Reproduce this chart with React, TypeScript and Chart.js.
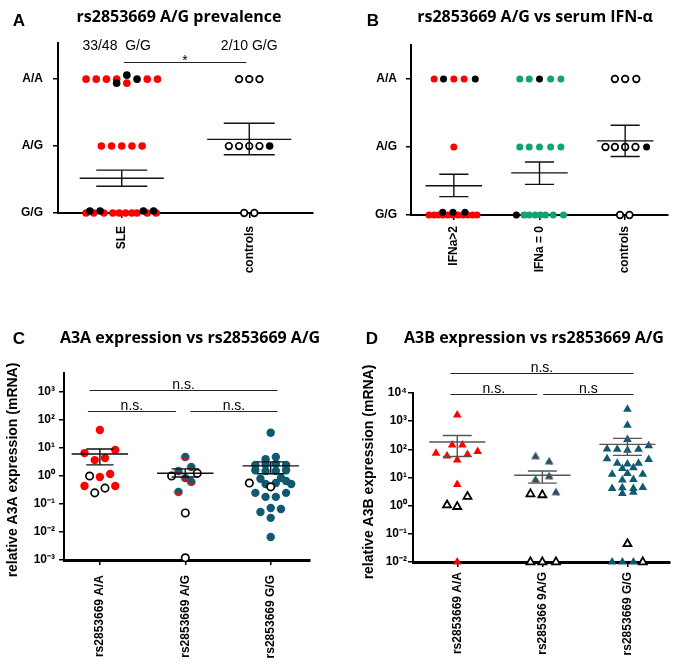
import React, { useEffect, useRef } from 'react';
import { Chart, registerables } from 'chart.js';

Chart.register(...registerables);

type Pt = [number, number];

const RED = '#ff0000';
const GREEN = '#13a36c';
const TEAL = '#0f5a70';
const BLACK = '#000000';
const LABEL_FAMILY = '"Liberation Sans", Arial, sans-serif';
const TITLE_FAMILY = '"Open Sans", "Liberation Sans", sans-serif';

// ================= Panel A : rs2853669 A/G prevalence =================
const A_GROUPS = ['SLE', 'controls'];
const A_GENOTYPE_TICKS = [0, 1, 2];
const A_GENOTYPE_LABELS = ['G/G', 'A/G', 'A/A'];
const A_RED: Pt[] = [
  [-0.28, 2], [-0.2, 2], [-0.12, 2], [-0.04, 2], [0.04, 1.94], [0.2, 2], [0.28, 2],
  [-0.16, 1], [-0.08, 1], [0, 1], [0.08, 1], [0.16, 1],
  [-0.28, 0], [-0.22, 0], [-0.14, 0], [-0.07, 0], [-0.02, 0], [0.03, 0], [0.08, 0], [0.12, 0], [0.2, 0], [0.27, 0],
];
const A_BLACK: Pt[] = [
  [-0.04, 1.94], [0.04, 2.06], [0.12, 2],
  [-0.25, 0.03], [-0.17, 0.03], [0.17, 0.03], [0.25, 0.03],
  [1.16, 1],
];
const A_OPEN: Pt[] = [
  [0.92, 2], [1, 2], [1.08, 2],
  [0.84, 1], [0.92, 1], [1, 1], [1.08, 1],
  [0.96, 0], [1.04, 0],
];
const A_MEAN = [0.52, 1.1];
const A_SEM_HIGH = [0.64, 1.34];
const A_SEM_LOW = [0.4, 0.87];
const A_COUNT_LABELS = ['33/48  G/G', '2/10 G/G'];
const A_SIG_LABELS = ['*'];

// ================= Panel B : rs2853669 A/G vs serum IFN-α =================
const B_GROUPS = ['IFNa>2', 'IFNa = 0', 'controls'];
const B_RED: Pt[] = [
  [-0.23, 2], [0, 2], [0.12, 2],
  [0, 1],
  [-0.29, 0], [-0.23, 0], [-0.18, 0], [-0.13, 0], [-0.07, 0], [-0.01, 0], [0.05, 0], [0.11, 0], [0.16, 0], [0.22, 0], [0.27, 0],
];
const B_GREEN: Pt[] = [
  [0.77, 2], [0.88, 2], [1.13, 2], [1.25, 2],
  [0.77, 1], [0.88, 1], [1, 1], [1.13, 1], [1.25, 1],
  [0.82, 0], [0.88, 0], [0.95, 0], [1.01, 0], [1.07, 0], [1.16, 0], [1.28, 0],
];
const B_BLACK: Pt[] = [
  [-0.12, 2], [0.25, 2], [-0.13, 0.04], [-0.01, 0.04], [0.13, 0.04],
  [1, 2], [0.73, 0],
  [2.25, 1],
];
const B_OPEN: Pt[] = [
  [1.88, 2], [2, 2], [2.13, 2],
  [1.77, 1], [1.88, 1], [2, 1], [2.12, 1],
  [1.94, 0], [2.05, 0],
];
const B_MEAN = [0.43, 0.62, 1.09];
const B_SEM_HIGH = [0.6, 0.78, 1.32];
const B_SEM_LOW = [0.27, 0.45, 0.86];

// ================= Panel C : A3A expression =================
const C_GROUPS = ['rs2853669 A/A', 'rs2853669 A/G', 'rs2853669 G/G'];
const C_Y_TICKS = [1e-3, 1e-2, 1e-1, 1, 10, 100, 1000];
const C_RED: Pt[] = [
  [0, 44], [-0.18, 6.6], [0.18, 8.5], [-0.06, 3.7], [0.06, 4.4],
  [0, 0.92], [0.12, 1.18], [-0.18, 0.44], [0.18, 0.44],
];
const C_HALF: Pt[] = [
  [1, 4.8], [1.07, 2.1], [0.92, 1.5], [1, 0.85], [1.07, 0.62], [0.92, 0.27],
];
const C_TEAL: Pt[] = [
  [2, 35], [2.06, 4.8], [1.94, 4.0],
  [1.82, 2.5], [1.94, 2.6], [2.06, 2.7], [2.18, 2.5],
  [1.82, 1.6], [1.94, 1.5], [2.06, 1.5], [2.18, 1.6],
  [1.88, 0.8], [2.12, 0.85], [2.18, 0.66], [2.24, 0.52], [1.94, 0.52], [2.06, 0.56],
  [1.82, 0.25], [1.94, 0.18], [2.06, 0.18], [2.18, 0.25],
  [1.88, 0.052], [2, 0.072], [2.12, 0.066], [2, 0.032], [2, 0.0066],
];
const C_OPEN: Pt[] = [
  [-0.12, 1.0], [-0.06, 0.25], [0.06, 0.37],
  [0.84, 1.0], [1.14, 1.26], [1, 0.048], [1, 0.0012],
  [1.75, 0.56], [2, 0.41],
];
const C_MEAN = [6.1, 1.25, 2.3];
const C_SEM_HIGH = [9.2, 1.8, 3.2];
const C_SEM_LOW = [2.5, 0.92, 1.2];
const C_SIG_LABELS = ['n.s.', 'n.s.', 'n.s.'];

// ================= Panel D : A3B expression =================
const D_GROUPS = ['rs2853669 A/A', 'rs285366 9A/G', 'rs2853669 G/G'];
const D_Y_TICKS = [1e-2, 1e-1, 1, 10, 100, 1000, 1e4];
const D_RED: Pt[] = [
  [0, 1660], [-0.06, 142], [0.06, 142], [-0.25, 72], [-0.12, 58], [0.12, 66], [0.24, 83],
  [0, 42], [0, 5.7], [0, 0.01],
];
const D_HALF: Pt[] = [
  [0.92, 55], [1.08, 36], [0.92, 8.1], [1.08, 10.7], [1.16, 2.9],
];
const D_TEAL: Pt[] = [
  [2, 2650], [2, 720], [2, 225],
  [1.76, 103], [1.88, 100], [2, 92], [2.13, 100], [2.25, 135],
  [1.76, 46], [2.25, 44],
  [1.88, 32], [2, 30], [2.13, 32],
  [1.94, 21], [2.07, 22],
  [1.82, 13], [2, 14], [2.18, 13],
  [1.94, 8.2], [2.07, 8.5],
  [1.82, 4.1], [1.94, 4.3], [2.07, 4.1], [2.18, 4.4],
  [1.94, 2.7], [2.07, 3],
  [1.82, 0.01], [1.94, 0.01], [2.07, 0.01],
];
const D_OPEN: Pt[] = [
  [-0.12, 1.05], [0, 0.92], [0.12, 2.1],
  [0.86, 2.6], [1, 2.4], [0.86, 0.01], [1, 0.01], [1.16, 0.01],
  [2, 0.044], [2.18, 0.01],
];
const D_MEAN = [182, 12, 150];
const D_SEM_HIGH = [309, 17, 245];
const D_SEM_LOW = [56, 6.3, 61];
const D_SIG_LABELS = ['n.s.', 'n.s.', 'n.s'];

// ================= helpers =================
const SUP: Record<string, string> = {
  '-': '\u207B', '0': '\u2070', '1': '\u00B9', '2': '\u00B2', '3': '\u00B3', '4': '\u2074',
};
const powerLabel = (v: number) =>
  '10' + String(Math.round(Math.log10(v))).split('').map((ch) => SUP[ch] || ch).join('');

function halfCircle(): HTMLCanvasElement {
  const c = document.createElement('canvas');
  c.width = 10; c.height = 10;
  const g = c.getContext('2d')!;
  g.fillStyle = TEAL;
  g.beginPath(); g.arc(5, 5, 4.3, 0, Math.PI * 2); g.fill();
  g.fillStyle = RED;
  g.beginPath(); g.arc(5, 5.4, 2.8, 0, Math.PI); g.closePath(); g.fill();
  return c;
}

function halfTriangle(): HTMLCanvasElement {
  const c = document.createElement('canvas');
  c.width = 12; c.height = 12;
  const g = c.getContext('2d')!;
  g.fillStyle = TEAL;
  g.beginPath(); g.moveTo(6, 1); g.lineTo(10.4, 8.6); g.lineTo(1.6, 8.6); g.closePath(); g.fill();
  g.fillStyle = RED;
  g.beginPath(); g.moveTo(6.5, 4.4); g.lineTo(9.0, 8.6); g.lineTo(6.5, 8.6); g.closePath(); g.fill();
  return c;
}

type Style = { pointStyle: any; radius: number; bg: string; border: string; bw: number };
const dot = (color: string, r: number): Style => ({ pointStyle: 'circle', radius: r, bg: color, border: color, bw: 0 });
const ring = (r: number): Style => ({ pointStyle: 'circle', radius: r, bg: '#ffffff', border: BLACK, bw: 1.7 });
const tri = (color: string, r: number): Style => ({ pointStyle: 'triangle', radius: r, bg: color, border: color, bw: 0 });
const openTri = (r: number): Style => ({ pointStyle: 'triangle', radius: r, bg: '#ffffff', border: BLACK, bw: 1.8 });
const img = (c: HTMLCanvasElement): Style => ({ pointStyle: c, radius: 4, bg: TEAL, border: TEAL, bw: 0 });

function points(data: Pt[], s: Style) {
  return {
    data: data.map(([x, y]) => ({ x, y })),
    showLine: false,
    clip: false,
    pointStyle: s.pointStyle,
    pointRadius: s.radius,
    pointHoverRadius: s.radius,
    pointBackgroundColor: s.bg,
    pointBorderColor: s.border,
    pointBorderWidth: s.bw,
    backgroundColor: s.bg,
    borderColor: s.border,
  };
}

interface Sig { x1: number; x2: number; y: number; label: string }
interface Txt { text: string; x: number; y: number }
interface PanelSpec {
  letter: string; letterAt: [number, number];
  title: string; titleAt: [number, number];
  area: { l: number; t: number; r: number; b: number };
  xMin: number; xMax: number; xLabels: string[]; xPad: number; xBorder: number;
  yLog: boolean; yMin: number; yMax: number; yTicks: number[]; yLabel: (v: number) => string; yPad: number;
  yTitle?: { text: string; x: number; y: number };
  series: () => any[];
  means: number[]; highs: number[]; lows: number[]; barColor: string; capHalf: number;
  sigs: Sig[]; sigDy: number;
  texts: Txt[];
}

const PANELS: PanelSpec[] = [
  {
    letter: 'A', letterAt: [19, 21],
    title: 'rs2853669 A/G prevalence', titleAt: [179, 17],
    area: { l: 58, t: 43, r: 313, b: 213 },
    xMin: -0.5, xMax: 1.5, xLabels: A_GROUPS, xPad: 8, xBorder: 2,
    yLog: false, yMin: 0, yMax: 2.54, yTicks: A_GENOTYPE_TICKS,
    yLabel: (v) => A_GENOTYPE_LABELS[Math.round(v)] ?? '', yPad: 10,
    series: () => [
      points(A_BLACK, dot(BLACK, 3.8)),
      points(A_RED, dot(RED, 3.8)),
      points(A_OPEN, ring(3.3)),
    ],
    means: A_MEAN, highs: A_SEM_HIGH, lows: A_SEM_LOW, barColor: '#111', capHalf: 0.2,
    sigs: [{ x1: 0.016, x2: 0.977, y: 2.25, label: A_SIG_LABELS[0] }], sigDy: 2,
    texts: [
      { text: A_COUNT_LABELS[0], x: -0.04, y: 2.43 },
      { text: A_COUNT_LABELS[1], x: 1.0, y: 2.43 },
    ],
  },
  {
    letter: 'B', letterAt: [373, 21],
    title: 'rs2853669 A/G vs serum IFN-\u03B1', titleAt: [535, 17],
    area: { l: 411, t: 45, r: 668, b: 215 },
    xMin: -0.5, xMax: 2.5, xLabels: B_GROUPS, xPad: 6, xBorder: 2,
    yLog: false, yMin: 0, yMax: 2.5, yTicks: A_GENOTYPE_TICKS,
    yLabel: (v) => A_GENOTYPE_LABELS[Math.round(v)] ?? '', yPad: 9,
    series: () => [
      points(B_BLACK, dot(BLACK, 3.5)),
      points(B_RED, dot(RED, 3.5)),
      points(B_GREEN, dot(GREEN, 3.5)),
      points(B_OPEN, ring(3.3)),
    ],
    means: B_MEAN, highs: B_SEM_HIGH, lows: B_SEM_LOW, barColor: '#111', capHalf: 0.17,
    sigs: [], sigDy: -2,
    texts: [],
  },
  {
    letter: 'C', letterAt: [19, 339],
    title: 'A3A expression vs rs2853669 A/G', titleAt: [190, 338],
    area: { l: 64, t: 373, r: 310, b: 560 },
    xMin: -0.42, xMax: 2.46, xLabels: C_GROUPS, xPad: 10, xBorder: 3,
    yLog: true, yMin: 1e-3, yMax: 4786, yTicks: C_Y_TICKS, yLabel: powerLabel, yPad: 4,
    yTitle: { text: 'relative A3A expression (mRNA)', x: 13, y: 470 },
    series: () => [
      points(C_OPEN, ring(3.7)),
      points(C_HALF, img(halfCircle())),
      points(C_TEAL, dot(TEAL, 4.2)),
      points(C_RED, dot(RED, 4.2)),
    ],
    means: C_MEAN, highs: C_SEM_HIGH, lows: C_SEM_LOW, barColor: '#111', capHalf: 0.16,
    sigs: [
      { x1: -0.12, x2: 2.08, y: 1175, label: C_SIG_LABELS[0] },
      { x1: -0.14, x2: 0.89, y: 209, label: C_SIG_LABELS[1] },
      { x1: 1.06, x2: 2.08, y: 209, label: C_SIG_LABELS[2] },
    ],
    sigDy: -2,
    texts: [],
  },
  {
    letter: 'D', letterAt: [372, 339],
    title: 'A3B expression vs rs2853669 A/G', titleAt: [534, 338],
    area: { l: 413, t: 393, r: 670, b: 562 },
    xMin: -0.52, xMax: 2.5, xLabels: D_GROUPS, xPad: 5, xBorder: 3,
    yLog: true, yMin: 1e-2, yMax: 1e4, yTicks: D_Y_TICKS, yLabel: powerLabel, yPad: 1,
    yTitle: { text: 'relative A3B expression (mRNA)', x: 369, y: 472 },
    series: () => [
      points(D_OPEN, openTri(4.6)),
      points(D_HALF, img(halfTriangle())),
      points(D_TEAL, tri(TEAL, 5)),
      points(D_RED, tri(RED, 5)),
    ],
    means: D_MEAN, highs: D_SEM_HIGH, lows: D_SEM_LOW, barColor: '#555', capHalf: 0.17,
    sigs: [
      { x1: -0.08, x2: 2.07, y: 51000, label: D_SIG_LABELS[0] },
      { x1: -0.08, x2: 0.94, y: 9200, label: D_SIG_LABELS[1] },
      { x1: 1.01, x2: 2.07, y: 9200, label: D_SIG_LABELS[2] },
    ],
    sigDy: -2,
    texts: [],
  },
];

const W = 685;
const H = 670;

function decorPlugin(p: PanelSpec) {
  return {
    id: 'decor' + p.letter,
    afterDatasetsDraw(chart: any) {
      const ctx: CanvasRenderingContext2D = chart.ctx;
      const xs = chart.scales.x;
      const ys = chart.scales.y;
      ctx.save();
      ctx.strokeStyle = p.barColor;
      ctx.lineWidth = 1.4;
      p.means.forEach((m, i) => {
        const cx = xs.getPixelForValue(i);
        const mh = xs.getPixelForValue(i + 0.33) - cx;
        const ch = xs.getPixelForValue(i + p.capHalf) - cx;
        const ym = ys.getPixelForValue(m);
        const yh = ys.getPixelForValue(p.highs[i]);
        const yl = ys.getPixelForValue(p.lows[i]);
        ctx.beginPath();
        ctx.moveTo(cx - mh, ym); ctx.lineTo(cx + mh, ym);
        ctx.moveTo(cx, yh); ctx.lineTo(cx, yl);
        ctx.moveTo(cx - ch, yh); ctx.lineTo(cx + ch, yh);
        ctx.moveTo(cx - ch, yl); ctx.lineTo(cx + ch, yl);
        ctx.stroke();
      });
      ctx.restore();
    },
    afterDraw(chart: any) {
      const ctx: CanvasRenderingContext2D = chart.ctx;
      const xs = chart.scales.x;
      const ys = chart.scales.y;
      ctx.save();
      ctx.fillStyle = BLACK;
      // letter
      ctx.font = `bold 17px ${LABEL_FAMILY}`;
      ctx.textAlign = 'center';
      ctx.textBaseline = 'middle';
      ctx.fillText(p.letter, p.letterAt[0], p.letterAt[1]);
      // title
      ctx.font = `bold 16px ${TITLE_FAMILY}`;
      ctx.fillText(p.title, p.titleAt[0], p.titleAt[1]);
      // y title
      if (p.yTitle) {
        ctx.save();
        ctx.translate(p.yTitle.x, p.yTitle.y);
        ctx.rotate(-Math.PI / 2);
        ctx.font = `bold 14px ${LABEL_FAMILY}`;
        ctx.fillText(p.yTitle.text, 0, 0);
        ctx.restore();
      }
      // significance brackets
      ctx.strokeStyle = '#222';
      ctx.lineWidth = 1.2;
      ctx.font = `14px ${LABEL_FAMILY}`;
      ctx.textBaseline = 'alphabetic';
      p.sigs.forEach((s) => {
        const x1 = xs.getPixelForValue(s.x1);
        const x2 = xs.getPixelForValue(s.x2);
        const y = Math.round(ys.getPixelForValue(s.y)) + 0.5;
        ctx.beginPath(); ctx.moveTo(x1, y); ctx.lineTo(x2, y); ctx.stroke();
        ctx.fillText(s.label, (x1 + x2) / 2, y + p.sigDy);
      });
      // free texts
      p.texts.forEach((t) => {
        ctx.fillText(t.text, xs.getPixelForValue(t.x), ys.getPixelForValue(t.y));
      });
      ctx.restore();
    },
  };
}

function buildConfig(p: PanelSpec): any {
  const YW = 40;
  const XH = 100;
  const tickFont = { family: LABEL_FAMILY, size: 12, weight: 'bold' as const };
  return {
    type: 'scatter',
    data: { datasets: p.series() },
    plugins: [decorPlugin(p)],
    options: {
      responsive: false,
      animation: false,
      events: [],
      layout: {
        padding: { left: p.area.l - YW, top: p.area.t, right: W - p.area.r, bottom: H - p.area.b - XH },
      },
      plugins: { legend: { display: false }, tooltip: { enabled: false }, title: { display: false } },
      scales: {
        x: {
          type: 'linear',
          position: 'bottom',
          min: p.xMin,
          max: p.xMax,
          bounds: 'data',
          afterBuildTicks: (ax: any) => { ax.ticks = p.xLabels.map((_, i) => ({ value: i })); },
          afterFit: (ax: any) => { ax.height = XH; },
          ticks: {
            autoSkip: false, minRotation: 90, maxRotation: 90, padding: p.xPad, color: BLACK, font: tickFont,
            callback: (v: number) => p.xLabels[Math.round(v)] ?? '',
          },
          grid: { drawOnChartArea: false, drawTicks: true, tickLength: 5, color: BLACK, lineWidth: 1.5 },
          border: { display: true, color: BLACK, width: p.xBorder },
        },
        y: {
          type: p.yLog ? 'logarithmic' : 'linear',
          position: 'left',
          min: p.yMin,
          max: p.yMax,
          bounds: 'data',
          afterBuildTicks: (ax: any) => { ax.ticks = p.yTicks.map((v) => ({ value: v })); },
          afterFit: (ax: any) => { ax.width = YW; },
          ticks: { autoSkip: false, padding: p.yPad, color: BLACK, font: tickFont, callback: (v: number) => p.yLabel(v) },
          grid: { drawOnChartArea: false, drawTicks: true, tickLength: 5, color: BLACK, lineWidth: 1.5 },
          border: { display: true, color: BLACK, width: 2 },
        },
      },
    },
  };
}

function Panel({ spec }: { spec: PanelSpec }) {
  const ref = useRef<HTMLCanvasElement>(null);
  useEffect(() => {
    const chart = new Chart(ref.current!, buildConfig(spec));
    return () => chart.destroy();
  }, [spec]);
  return (
    <canvas
      ref={ref}
      width={W}
      height={H}
      style={{ position: 'absolute', left: 0, top: 0, width: W, height: H }}
    />
  );
}

export default function App() {
  return (
    <div style={{ position: 'absolute', left: 0, top: 0, width: W, height: H, background: '#ffffff' }}>
      {PANELS.map((p) => (
        <Panel key={p.letter} spec={p} />
      ))}
    </div>
  );
}
